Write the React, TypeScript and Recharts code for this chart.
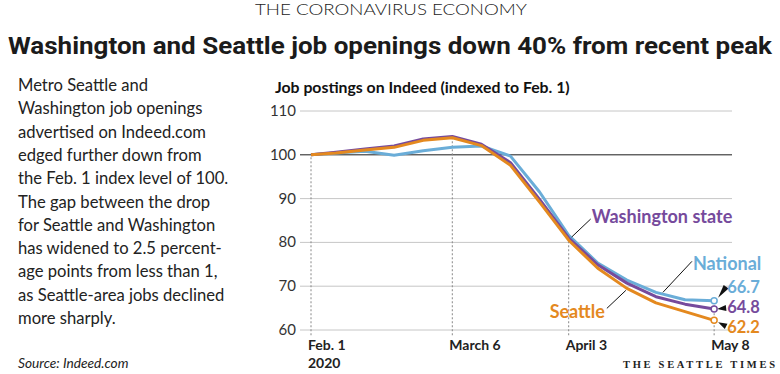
import { CartesianGrid, Line, LineChart, ReferenceLine, XAxis, YAxis } from 'recharts'

// days since Feb. 1, 2020 (weekly readings)
const days = [0, 6, 13, 20, 27, 34, 41, 48, 55, 62, 69, 76, 83, 90, 97]
const national = [100, 100.4, 100.8, 99.9, 100.9, 101.7, 102, 99.7, 91.5, 81.6, 75.3, 71.4, 68.6, 66.9, 66.7]
const washington = [100, 100.6, 101.3, 102, 103.6, 104.2, 102.4, 98.2, 89.8, 81, 74.9, 70.7, 67.6, 65.9, 64.8]
const seattle = [100, 100.4, 101.1, 101.7, 103.3, 103.9, 102.1, 97.6, 89.2, 80.5, 74.1, 69.5, 66.2, 64.2, 62.2]

const tickDays = [0, 34, 62, 97]
const tickLabels = ['Feb. 1', 'March 6', 'April 3', 'May 8']
const yTicks = [60, 70, 80, 90, 100, 110]

const bodyLines = [
    'Metro Seattle and',
    'Washington job openings',
    'advertised on Indeed.com',
    'edged further down from',
    'the Feb. 1 index level of 100.',
    'The gap between the drop',
    'for Seattle and Washington',
    'has widened to 2.5 percent-',
    'age points from less than 1,',
    'as Seattle-area jobs declined',
    'more sharply.',
]

const data = days.map((d, i) => ({
    day: d,
    national: national[i],
    washington: washington[i],
    seattle: seattle[i],
}))

const COLORS = {
    national: '#6aadd8',
    washington: '#764a9c',
    seattle: '#e4891f',
}

const SANS = 'Lato, "Open Sans", sans-serif'

// label placement for each series: name leader and end value marker
const SERIES = [
    {
        key: 'national', name: 'National', at: 12,
        leader: [7, 0, 36, -31], nameDx: 37, nameDy: -22, anchor: 'start',
        tip: [4, -3], base: [12, -14], valueDy: -8,
    },
    {
        key: 'washington', name: 'Washington state', at: 9,
        leader: [3, -1, 22, -19], nameDx: 23, nameDy: -15, anchor: 'start',
        tip: [3, 0], base: [12, -1], valueDy: 4,
    },
    {
        key: 'seattle', name: 'Seattle', at: 11,
        leader: [-1, 2, -20, 20], nameDx: -22, nameDy: 30, anchor: 'end',
        tip: [4, 2], base: [12, 6], valueDy: 13,
    },
] as const

function makeDot(s: (typeof SERIES)[number], values: number[]) {
    const color = COLORS[s.key]
    const last = values.length - 1
    return (props: any) => {
        const { cx, cy, index } = props
        if (index === s.at) {
            const [x1, y1, x2, y2] = s.leader
            return (
                <g key={`lbl-${s.key}`}>
                    <line x1={cx + x1} y1={cy + y1} x2={cx + x2} y2={cy + y2} stroke="#111" strokeWidth={1} />
                    <text x={cx + s.nameDx} y={cy + s.nameDy} textAnchor={s.anchor} fill={color}
                        fontFamily={SANS} fontWeight={700} fontSize={18}>{s.name}</text>
                </g>
            )
        }
        if (index === last) {
            const [tx, ty] = s.tip
            const [bx, by] = s.base
            // perpendicular half-width at base of the wedge
            const dx = bx - tx, dy = by - ty
            const len = Math.hypot(dx, dy)
            const px = (-dy / len) * 3, py = (dx / len) * 3
            return (
                <g key={`end-${s.key}`}>
                    <polygon
                        points={`${cx + tx},${cy + ty} ${cx + bx + px},${cy + by + py} ${cx + bx - px},${cy + by - py}`}
                        fill="#111"
                    />
                    <circle cx={cx} cy={cy} r={3} fill="#fff" stroke={color} strokeWidth={1.5} />
                    <text x={cx + 13} y={cy + s.valueDy} fill={color} fontFamily={SANS} fontWeight={700}
                        fontSize={16.5}>{values[last].toFixed(1)}</text>
                </g>
            )
        }
        return <g key={`d-${s.key}-${index}`} />
    }
}

const XTick = (props: any) => {
    const { x, payload } = props
    const i = tickDays.indexOf(payload.value)
    return (
        <g>
            <text x={x - 3} y={350} textAnchor="start" fill="#222" fontFamily={SANS} fontWeight={700} fontSize={14}>
                {tickLabels[i]}
            </text>
            {i === 0 && (
                <text x={x - 3} y={368} textAnchor="start" fill="#222" fontFamily={SANS} fontWeight={700} fontSize={14}>
                    2020
                </text>
            )}
        </g>
    )
}

const YTick = (props: any) => {
    const { y, payload } = props
    return (
        <text x={296} y={y} dy={5} textAnchor="end" fill="#333" fontFamily={SANS} fontSize={15}>
            {payload.value}
        </text>
    )
}

export default function App() {
    return (
        <div style={{ position: 'fixed', left: 0, top: 0, width: 780, height: 374, background: '#fff', overflow: 'hidden' }}>
            <svg width={780} height={374} style={{ position: 'absolute', left: 0, top: 0 }}>
                <text x={255} y={15} textLength={272} lengthAdjust="spacingAndGlyphs" fill="#222"
                    fontFamily={SANS} fontWeight={300} fontSize={15}>THE CORONAVIRUS ECONOMY</text>
                <text x={8} y={54} textLength={764} lengthAdjust="spacingAndGlyphs" fill="#1b1b1b"
                    fontFamily="Roboto, sans-serif" fontWeight={700} fontSize={24}>
                    Washington and Seattle job openings down 40% from recent peak
                </text>
                {bodyLines.map((line, i) => (
                    <text key={i} x={18} y={91 + i * 23.3} fill="#222" fontFamily={SANS} fontSize={16.6}>{line}</text>
                ))}
                <text x={18} y={368} fill="#222" fontFamily={SANS} fontStyle="italic" fontSize={13.7}>Source: Indeed.com</text>
                <text x={275} y={93} fill="#111" fontFamily={SANS} fontWeight={700} fontSize={15.8}>
                    Job postings on Indeed (indexed to Feb. 1)
                </text>
                <text x={623} y={368} textLength={152} lengthAdjust="spacing" fill="#222"
                    fontFamily='"Liberation Serif", serif' fontWeight={700} fontSize={10.5}>THE SEATTLE TIMES</text>
            </svg>
            <div style={{ position: 'absolute', left: 0, top: 0 }}>
                <LineChart width={780} height={374} data={data} margin={{ top: 111, right: 48, bottom: 0, left: 260 }}>
                    <CartesianGrid horizontal vertical={false} stroke="#c6c6c6" strokeWidth={1} />
                    <XAxis type="number" dataKey="day" domain={[-2.65, 101.3]} ticks={tickDays} height={44}
                        axisLine={false} tickLine={false} tick={<XTick />} interval={0} />
                    <YAxis type="number" domain={[60, 110]} ticks={yTicks} width={40}
                        axisLine={false} tickLine={false} tick={<YTick />} interval={0} />
                    <ReferenceLine y={100} stroke="#333" strokeWidth={1} />
                    {tickDays.map((d) => {
                        const i = days.indexOf(d)
                        const top = Math.max(national[i], washington[i], seattle[i])
                        return (
                            <ReferenceLine key={d} segment={[{ x: d, y: 58.8 }, { x: d, y: top }]}
                                stroke="#888" strokeDasharray="2 2" ifOverflow="visible" />
                        )
                    })}
                    {SERIES.map((s) => {
                        const values = s.key === 'national' ? national : s.key === 'washington' ? washington : seattle
                        return (
                            <Line key={s.key} type="linear" dataKey={s.key} stroke={COLORS[s.key]} strokeWidth={3}
                                strokeLinejoin="round" dot={makeDot(s, values)} activeDot={false}
                                isAnimationActive={false} />
                        )
                    })}
                </LineChart>
            </div>
        </div>
    )
}
